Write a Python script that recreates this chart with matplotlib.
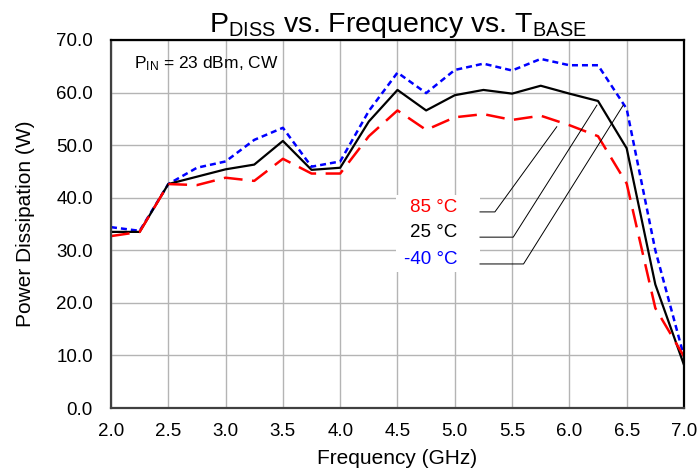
import numpy as np
import matplotlib
matplotlib.use('Agg')
import matplotlib.pyplot as plt
from matplotlib.patches import Rectangle

plt.rcParams['font.family'] = ['Liberation Sans', 'DejaVu Sans']
plt.rcParams['mathtext.default'] = 'regular'

# Frequency points (GHz)
freq = [2.0, 2.25, 2.5, 2.75, 3.0, 3.25, 3.5, 3.75, 4.0, 4.25, 4.5, 4.75, 5.0,
        5.25, 5.5, 5.75, 6.0, 6.25, 6.5, 6.75, 7.0]

# Power dissipation (W) at each base temperature
pd_85 = [32.7, 33.5, 42.6, 42.4, 43.8, 43.2, 47.4, 44.6, 44.6, 51.7, 56.6, 52.9,
         55.3, 55.9, 54.8, 55.6, 53.8, 51.7, 42.7, 19.0, 9.8]
pd_25 = [33.5, 33.5, 42.6, 44.0, 45.4, 46.3, 50.8, 45.3, 45.7, 54.5, 60.5, 56.6,
         59.5, 60.5, 59.8, 61.3, 59.8, 58.4, 49.4, 23.5, 8.2]
pd_m40 = [34.4, 33.7, 42.6, 45.7, 46.9, 51.0, 53.3, 45.9, 46.9, 56.5, 63.8, 59.9,
          64.3, 65.5, 64.2, 66.4, 65.2, 65.2, 56.9, 30.0, 9.8]

temp_labels = ['85 °C', '25 °C', '-40 °C']
temp_colors = ['#ff0000', '#000000', '#0000ff']

fig = plt.figure(figsize=(6.99, 4.70), dpi=100)
ax = fig.add_axes([0.1588, 0.1319, 0.8197, 0.7830])

ax.plot(freq, pd_m40, color='#0000ff', linewidth=1.8, dashes=(2.4, 1.6))
ax.plot(freq, pd_25, color='#000000', linewidth=1.6)
ax.plot(freq, pd_85, color='#ff0000', linewidth=1.8, dashes=(7.5, 3.8))

ax.set_xlim(2.0, 7.0)
ax.set_ylim(0, 70)
xt = np.arange(2.0, 7.01, 0.5)
yt = np.arange(0, 70.1, 10)
ax.set_xticks(xt)
ax.set_yticks(yt)
ax.set_xticklabels(['%.1f' % v for v in xt])
ax.set_yticklabels(['%.1f' % v for v in yt])
ax.tick_params(labelsize=13.5, length=0)
ax.tick_params(axis='x', pad=11)
ax.tick_params(axis='y', pad=13)
ax.grid(color='#b4b4b4', linewidth=1.0)
ax.set_axisbelow(True)
for side in ['top', 'right', 'left', 'bottom']:
    ax.spines[side].set_linewidth(1.6)
ax.spines['left'].set_color('#404040')
ax.spines['bottom'].set_color('#404040')

ax.set_xlabel('Frequency (GHz)', fontsize=15, labelpad=6)
ax.set_ylabel('Power Dissipation (W)', fontsize=15, labelpad=15)
ax.set_title(r'P$_{DISS}$ vs. Frequency vs. T$_{BASE}$', fontsize=20.5, pad=3)

ax.text(2.2, 65.5, r'P$_{IN}$ = 23 dBm, CW', fontsize=12.5, va='center')

# white box behind the temperature labels
ax.add_patch(Rectangle((4.49, 25.9), 0.73, 14.6, facecolor='white',
                       edgecolor='none', zorder=1.5))

# Leader lines from labels to curves
label_y = [38.2, 33.4, 28.3]
elbow_x = [5.35, 5.51, 5.60]
tip = [(5.89, 53.5), (6.24, 57.6), (6.47, 57.6)]
for lab, col, ly, ex, (tx, ty) in zip(temp_labels, temp_colors, label_y, elbow_x, tip):
    ax.plot([5.22, ex, tx], [ly - 0.9, ly - 0.9, ty], color='black', linewidth=0.7)
    ax.text(5.02, ly, lab, color=col, fontsize=13.5, ha='right', va='center', zorder=3)

plt.savefig('out.png', dpi=100)
